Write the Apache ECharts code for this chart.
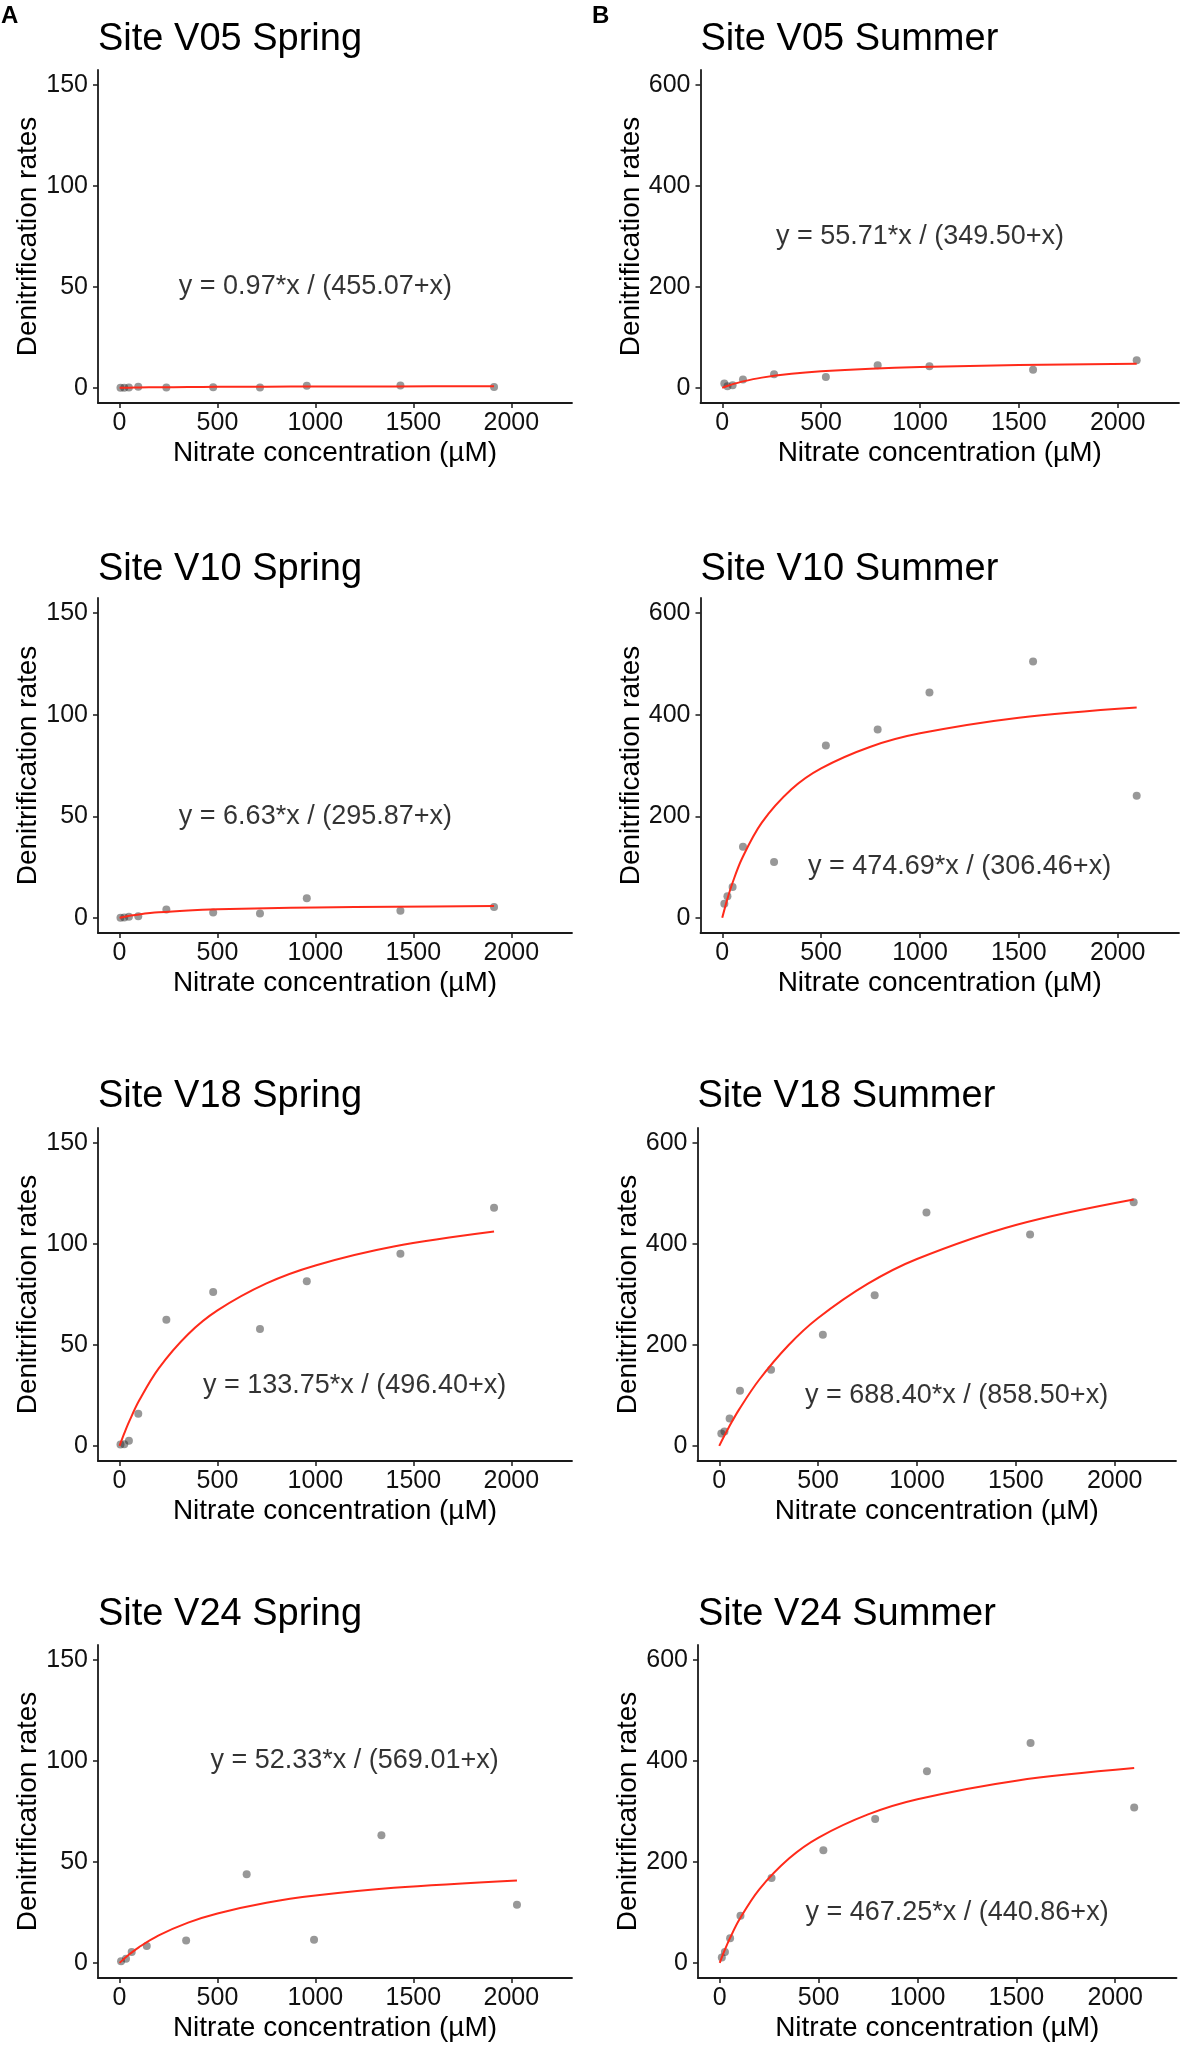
<!DOCTYPE html>
<html>
<head>
<meta charset="utf-8">
<script src="https://cdn.jsdelivr.net/npm/echarts@6/dist/echarts.min.js"></script>
<style>
  html, body { margin: 0; padding: 0; background: #fff; }
  #chart { width: 1185px; height: 2053px; }
</style>
</head>
<body>
<div id="chart"></div>
<script>
// panel order: V05 spring, V05 summer, V10 spring, V10 summer, V18 ..., V24 ...
var panelTitles = ['Site V05 Spring', 'Site V05 Summer', 'Site V10 Spring', 'Site V10 Summer',
                   'Site V18 Spring', 'Site V18 Summer', 'Site V24 Spring', 'Site V24 Summer'];
var equations = ['y = 0.97*x / (455.07+x)', 'y = 55.71*x / (349.50+x)',
                 'y = 6.63*x / (295.87+x)', 'y = 474.69*x / (306.46+x)',
                 'y = 133.75*x / (496.40+x)', 'y = 688.40*x / (858.50+x)',
                 'y = 52.33*x / (569.01+x)', 'y = 467.25*x / (440.86+x)'];
var eqPos = [[1000, 50], [1000, 300], [1000, 50], [1200, 100],
             [1200, 30], [1200, 100], [1200, 100], [1200, 100]];

var xTicks = [0, 500, 1000, 1500, 2000];
var yTicksSpring = [0, 50, 100, 150];
var yTicksSummer = [0, 200, 400, 600];

// measured points
var springX = [4.8, 23.9, 47.8, 95.6, 239, 478, 717, 956, 1434, 1912];
var v24SpringX = [7.7, 33, 62, 139, 340, 649, 993, 1337, 2029];
var summerX = [10.5, 26.2, 52.4, 104.8, 262, 524, 786, 1048, 1572, 2096];

var v05SpringY = [0.1, 0.1, 0.2, 0.5, 0.2, 0.3, 0.2, 1.1, 1.2, 0.4];
var v10SpringY = [0.0, 0.1, 0.5, 0.8, 4.1, 2.6, 2.1, 9.6, 3.5, 5.3];
var v18SpringY = [0.7, 0.8, 2.5, 15.9, 62.5, 76.3, 57.9, 81.6, 95.2, 118.0];
var v24SpringY = [0.8, 2.0, 5.4, 8.4, 11.1, 43.9, 11.5, 63.2, 28.8];
var v05SummerY = [8.5, 3.3, 5.3, 16.4, 26.9, 21.7, 44.7, 42.7, 36.1, 54.5];
var v10SummerY = [27.7, 42.3, 60.7, 139.7, 110, 339.4, 371, 444, 504.8, 240.5];
var v18SummerY = [24.3, 28.3, 54, 109, 151, 220, 298.7, 462.6, 419, 483];
var v24SummerY = [10.5, 21.7, 48.8, 93.4, 168, 223, 285, 380, 435.6, 308];

// fitted curves
var springCurveX = [0, 25, 50, 100, 200, 350, 500, 750, 1000, 1400, 1912];
var v24SpringCurveX = [0, 25, 50, 100, 200, 350, 500, 750, 1000, 1400, 2029];
var summerCurveX = [0, 25, 50, 100, 200, 350, 500, 750, 1000, 1500, 2096];

var v05SpringCurve = [0, 0.05, 0.10, 0.18, 0.30, 0.42, 0.51, 0.60, 0.67, 0.73, 0.78];
var v10SpringCurve = [0, 0.52, 0.96, 1.67, 2.67, 3.59, 4.17, 4.75, 5.12, 5.47, 5.74];
var v18SpringCurve = [0, 6.41, 12.24, 22.43, 38.41, 55.31, 67.12, 80.48, 89.38, 98.74, 106.18];
var v24SpringCurve = [0, 2.20, 4.23, 7.82, 13.61, 19.93, 24.48, 29.76, 33.35, 37.21, 40.87];
var v05SummerCurve = [0, 3.72, 6.97, 12.39, 20.28, 27.88, 32.79, 38.00, 41.28, 45.18, 47.75];
var v10SummerCurve = [0, 35.80, 66.58, 116.79, 187.45, 253.09, 294.31, 336.99, 363.34, 394.16, 414.14];
var v18SummerCurve = [0, 19.48, 37.89, 71.82, 130.07, 199.37, 253.37, 320.98, 370.41, 437.82, 488.37];
var v24SummerCurve = [0, 25.08, 47.60, 86.39, 145.82, 206.79, 248.31, 294.27, 324.29, 361.11, 386.05];

var pointsX = [springX, summerX, springX, summerX, springX, summerX, v24SpringX, summerX];
var pointsY = [v05SpringY, v05SummerY, v10SpringY, v10SummerY, v18SpringY, v18SummerY, v24SpringY, v24SummerY];
var curveX = [springCurveX, summerCurveX, springCurveX, summerCurveX, springCurveX, summerCurveX, v24SpringCurveX, summerCurveX];
var curveY = [v05SpringCurve, v05SummerCurve, v10SpringCurve, v10SummerCurve, v18SpringCurve, v18SummerCurve, v24SpringCurve, v24SummerCurve];

function zip(a, b) {
  return a.map(function (v, i) { return [v, b[i]]; });
}

var FONT = 'Liberation Sans, Arial, Helvetica, sans-serif';
var rowTop = [70, 598, 1128, 1645];
var rowHeight = [333, 335, 333, 333];
var titleBase = [52, 582, 1109, 1627];
var colLeft = [[98, 700.5], [98, 700.5], [98, 697.5], [98, 698]];
var colWidth = [474, 478.5];

var chart = echarts.init(document.getElementById('chart'), null, { renderer: 'canvas' });

var grids = [], xAxes = [], yAxes = [], series = [], graphics = [];

for (var i = 0; i < 8; i++) {
  var row = Math.floor(i / 2), col = i % 2;
  var spring = col === 0;
  var yTicks = spring ? yTicksSpring : yTicksSummer;
  var yMax = spring ? 150 : 600;
  var left = colLeft[row][col];

  grids.push({ left: left, top: rowTop[row], width: colWidth[col], height: rowHeight[row] });

  xAxes.push({
    gridIndex: i, type: 'value', min: -110, max: 2310,
    name: 'Nitrate concentration (µM)', nameLocation: 'middle', nameGap: 36,
    nameTextStyle: { fontSize: 28, color: '#000', fontFamily: FONT },
    axisLine: { show: true, onZero: false, lineStyle: { color: '#1a1a1a', width: 1.8 } },
    axisTick: { show: true, length: 5, customValues: xTicks, lineStyle: { color: '#1a1a1a', width: 1.5 } },
    axisLabel: { customValues: xTicks, fontSize: 25, margin: 8, color: '#111', fontFamily: FONT,
                 formatter: function (v) { return String(v); } },
    splitLine: { show: false }
  });

  yAxes.push({
    gridIndex: i, type: 'value', min: -yMax * 0.05, max: yMax * 1.05,
    name: 'Denitrification rates', nameLocation: 'middle', nameGap: 55,
    nameTextStyle: { fontSize: 28, color: '#000', fontFamily: FONT },
    axisLine: { show: true, onZero: false, lineStyle: { color: '#1a1a1a', width: 1.8 } },
    axisTick: { show: true, length: 5, customValues: yTicks, lineStyle: { color: '#1a1a1a', width: 1.5 } },
    axisLabel: { customValues: yTicks, fontSize: 25, margin: 10, color: '#111', fontFamily: FONT,
                 formatter: function (v) { return String(v); } },
    splitLine: { show: false }
  });

  series.push({
    type: 'scatter', xAxisIndex: i, yAxisIndex: i,
    data: zip(pointsX[i], pointsY[i]),
    symbolSize: 8, z: 2,
    itemStyle: { color: 'rgba(40,40,40,0.6)' }
  });

  series.push({
    type: 'line', xAxisIndex: i, yAxisIndex: i,
    data: zip(curveX[i], curveY[i]),
    showSymbol: false, smooth: 0.35, z: 3,
    lineStyle: { color: '#ff2a1a', width: 2 }
  });

  series.push({
    type: 'scatter', xAxisIndex: i, yAxisIndex: i,
    data: [eqPos[i]], symbolSize: 0, silent: true, z: 4,
    itemStyle: { color: 'transparent' },
    label: {
      show: true, position: 'inside', formatter: equations[i],
      fontSize: 27, color: '#000', fontFamily: FONT
    }
  });

  graphics.push({
    type: 'text', left: left, top: titleBase[row] - 31,
    style: { text: panelTitles[i], fontSize: 38, fill: '#000', fontFamily: FONT }
  });
}

graphics.push({ type: 'text', left: 1, top: 4,
  style: { text: 'A', fontSize: 24, fontWeight: 'bold', fill: '#000', fontFamily: FONT } });
graphics.push({ type: 'text', left: 592, top: 4,
  style: { text: 'B', fontSize: 24, fontWeight: 'bold', fill: '#000', fontFamily: FONT } });

chart.setOption({
  backgroundColor: '#fff',
  animation: false,
  grid: grids,
  xAxis: xAxes,
  yAxis: yAxes,
  series: series,
  graphic: graphics
});
</script>
</body>
</html>
